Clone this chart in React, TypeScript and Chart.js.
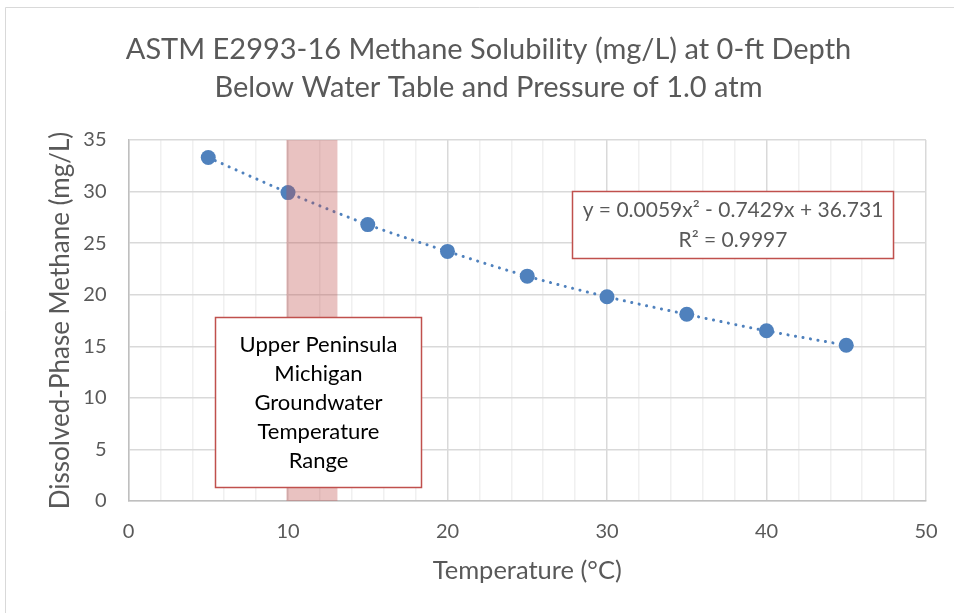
import React, { useEffect, useRef } from 'react';
import { Chart, registerables } from 'chart.js';

Chart.register(...registerables);

// ---- data ----
const temperatures = [5, 10, 15, 20, 25, 30, 35, 40, 45];
const solubility = [33.3, 29.9, 26.8, 24.2, 21.8, 19.8, 18.1, 16.5, 15.1];
const xTickLabels = [0, 10, 20, 30, 40, 50];
const yTickLabels = [0, 5, 10, 15, 20, 25, 30, 35];
const bandRange = [9.9, 13.1];
const titleLines = [
  'ASTM E2993-16 Methane Solubility (mg/L) at 0-ft Depth',
  'Below Water Table and Pressure of 1.0 atm',
];
const equationLines = ['y = 0.0059x² - 0.7429x + 36.731', 'R² = 0.9997'];
const noteLines = ['Upper Peninsula', 'Michigan', 'Groundwater', 'Temperature', 'Range'];
const xTitle = 'Temperature (°C)';
const yTitle = 'Dissolved-Phase Methane (mg/L)';

const FONT = 'Lato, "Open Sans", sans-serif';
const BLUE = '#4F81BD';
const RED = '#C0504D';
const GRAY_TEXT = '#595959';

const overlayPlugin = {
  id: 'overlay',
  beforeDraw(chart: any) {
    const { ctx, width, height } = chart;
    ctx.save();
    ctx.fillStyle = '#ffffff';
    ctx.fillRect(0, 0, width, height);
    ctx.strokeStyle = '#d9d9d9';
    ctx.lineWidth = 1;
    ctx.beginPath();
    ctx.moveTo(5.5, height);
    ctx.lineTo(5.5, 7.5);
    ctx.lineTo(width, 7.5);
    ctx.stroke();
    ctx.restore();
  },
  afterDatasetsDraw(chart: any) {
    const { ctx, chartArea, scales } = chart;
    const xs = scales.x;
    const ys = scales.y;
    ctx.save();
    // shaded temperature band
    const bx0 = xs.getPixelForValue(bandRange[0]);
    const bx1 = xs.getPixelForValue(bandRange[1]);
    ctx.fillStyle = 'rgba(192, 80, 77, 0.35)';
    ctx.fillRect(bx0, chartArea.top, bx1 - bx0, chartArea.bottom - chartArea.top);

    const drawBox = (x0: number, x1: number, y0: number, y1: number, lines: string[], color: string, lh: number, size: number) => {
      const px0 = Math.round(xs.getPixelForValue(x0)) + 0.5;
      const px1 = Math.round(xs.getPixelForValue(x1)) + 0.5;
      const py0 = Math.round(ys.getPixelForValue(y0)) + 0.5;
      const py1 = Math.round(ys.getPixelForValue(y1)) + 0.5;
      ctx.fillStyle = '#ffffff';
      ctx.fillRect(px0, py0, px1 - px0, py1 - py0);
      ctx.strokeStyle = RED;
      ctx.lineWidth = 1.5;
      ctx.strokeRect(px0, py0, px1 - px0, py1 - py0);
      ctx.fillStyle = color;
      ctx.font = `${size}px ${FONT}`;
      ctx.textAlign = 'center';
      ctx.textBaseline = 'middle';
      const cx = (px0 + px1) / 2;
      const cy = (py0 + py1) / 2;
      const start = cy - ((lines.length - 1) * lh) / 2;
      lines.forEach((t, i) => ctx.fillText(t, cx, start + i * lh));
    };
    drawBox(5.42, 18.34, 17.8, 1.36, noteLines, '#000000', 29, 22);
    drawBox(27.8, 47.9, 30.08, 23.56, equationLines, GRAY_TEXT, 30, 21);
    ctx.restore();
  },
};

export default function App() {
  const ref = useRef<HTMLCanvasElement | null>(null);

  useEffect(() => {
    document.body.style.margin = '0';
    const canvas = ref.current!;
    const chart = new Chart(canvas, {
      type: 'scatter',
      data: {
        datasets: [
          {
            data: temperatures.map((t, i) => ({ x: t, y: solubility[i] })),
            showLine: true,
            cubicInterpolationMode: 'monotone',
            borderColor: BLUE,
            borderWidth: 3,
            borderDash: [0.1, 7.5],
            borderCapStyle: 'round',
            backgroundColor: BLUE,
            pointBackgroundColor: BLUE,
            pointBorderColor: BLUE,
            pointRadius: 7.5,
            pointBorderWidth: 0,
          } as any,
        ],
      },
      options: {
        responsive: false,
        animation: false,
        events: [],
        layout: { padding: { left: 51, right: 28, top: 0, bottom: 0 } },
        plugins: {
          legend: { display: false },
          tooltip: { enabled: false },
          title: {
            display: true,
            text: titleLines,
            color: GRAY_TEXT,
            font: { family: FONT, size: 29, weight: 'normal', lineHeight: '38px' } as any,
            padding: { top: 31, bottom: 33 },
          },
        },
        scales: {
          x: {
            type: 'linear',
            min: 0,
            max: 50,
            afterBuildTicks: (scale: any) => {
              const arr = [];
              for (let v = 0; v <= 50; v += 2) arr.push({ value: v });
              scale.ticks = arr;
            },
            afterFit: (scale: any) => {
              scale.height = 112;
              scale.paddingLeft = 0;
              scale.paddingRight = 0;
            },
            ticks: {
              autoSkip: false,
              maxRotation: 0,
              color: GRAY_TEXT,
              padding: 19,
              font: { family: FONT, size: 20 },
              callback: (v: any) => (xTickLabels.includes(Number(v)) ? String(v) : ''),
            },
            grid: {
              drawTicks: false,
              color: (c: any) => (c.tick && c.tick.value % 10 === 0 ? '#d9d9d9' : '#f0f0f0'),
              lineWidth: 1.5,
            },
            border: { color: '#bfbfbf', width: 1.5 },
            title: {
              display: true,
              text: xTitle,
              color: GRAY_TEXT,
              font: { family: FONT, size: 25.5 },
              padding: { top: 0, bottom: 27 },
            },
          },
          y: {
            type: 'linear',
            min: 0,
            max: 35,
            afterBuildTicks: (scale: any) => {
              scale.ticks = yTickLabels.map((v) => ({ value: v }));
            },
            afterFit: (scale: any) => {
              scale.width = 77.5;
            },
            ticks: {
              color: GRAY_TEXT,
              padding: 22,
              font: { family: FONT, size: 20 },
            },
            grid: {
              drawTicks: false,
              color: '#d9d9d9',
              lineWidth: 1.5,
            },
            border: { color: '#bfbfbf', width: 1.5 },
            title: {
              display: true,
              text: yTitle,
              color: GRAY_TEXT,
              font: { family: FONT, size: 26 },
              padding: { top: -6, bottom: 0 },
            },
          },
        },
      },
      plugins: [overlayPlugin],
    } as any);
    return () => chart.destroy();
  }, []);

  return (
    <div style={{ width: 954, height: 613 }}>
      <canvas ref={ref} width={954} height={613} style={{ display: 'block' }} />
    </div>
  );
}
